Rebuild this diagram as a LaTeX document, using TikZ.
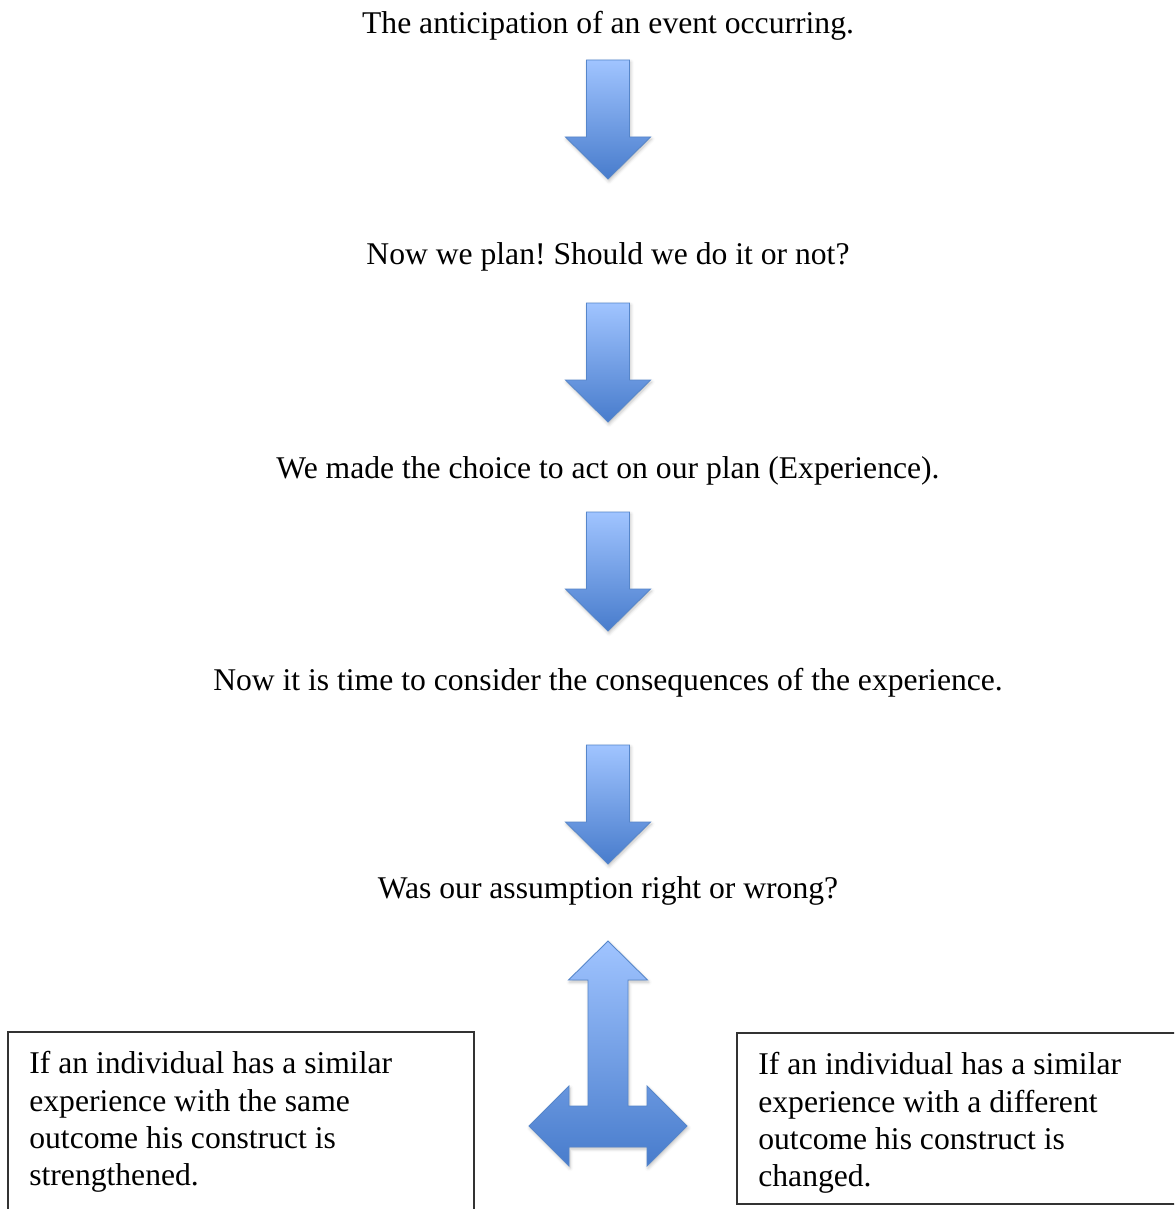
\documentclass[tikz,border=0pt]{standalone}
\usepackage{fontspec}
\setmainfont{Liberation Serif}
\usetikzlibrary{arrows.meta,shadows.blur,positioning}
\definecolor{arrowtop}{RGB}{160,196,255}
\definecolor{arrowbot}{RGB}{72,124,204}
\definecolor{arrowrim}{RGB}{86,134,202}
\frenchspacing

\begin{document}
\begin{tikzpicture}[x=0.02cm,y=-0.02cm,>=Stealth,
  stage/.style={anchor=base,inner sep=0pt,font=\fontsize{18}{21.3}\selectfont},
  outcome/.style={anchor=north west,align=left,inner xsep=0.42cm,inner ysep=0.38cm,font=\fontsize{18}{21.3}\selectfont},
  boxrim/.style={draw=black!80,line width=0.7pt},
  blockarrow/.style={draw=arrowrim,line width=0.5pt,top color=arrowtop,bottom color=arrowbot,
    blur shadow={shadow xshift=0.6pt,shadow yshift=-1.2pt,shadow opacity=25}},
  pics/downarrow/.style={code={
    \path[blockarrow] (-21.5,0) -- (21.5,0) -- (21.5,77) -- (42.5,77) -- (0,119)
      -- (-42.5,77) -- (-21.5,77) -- cycle;}}]
    \useasboundingbox (0,0) rectangle (1174,1209);
    \clip (0,0) rectangle (1174,1209);

    % the steps
    \node[stage] (anticip) at (608,34) {The anticipation of an event occurring.};
    \node[stage] (plan) at (608,265) {Now we plan! Should we do it or not?};
    \node[stage] (choice) at (608,478) {We made the choice to act on our plan (Experience).};
    \node[stage] (conseq) at (608,690) {Now it is time to consider the consequences of the experience.};
    \node[stage] (assume) at (608,898) {Was our assumption right or wrong?};

    % arrows between the steps
    \pic[shift={(0,26)}] at (anticip.base) {downarrow};
    \pic[shift={(0,38)}] at (plan.base) {downarrow};
    \pic[shift={(0,34)}] at (choice.base) {downarrow};
    \pic[shift={(0,55)}] at (conseq.base) {downarrow};

    % the two outcomes
    \path[blockarrow,shift={(assume.base)}] (0,43) -- (39.5,82) -- (20,82) -- (20,208)
      -- (39,208) -- (39,188) -- (79,228) -- (39,268) -- (39,249) -- (-39,249)
      -- (-39,268) -- (-79,228) -- (-39,188) -- (-39,208) -- (-20,208) -- (-20,82)
      -- (-39.5,82) -- cycle;

    \node[outcome] (same) at (8,1032) {If an individual has a similar\\experience with the same\\outcome his construct is\\strengthened.};
    \draw[boxrim] (same.north west) rectangle ++(466,220);
    \node[outcome] (diff) at (737,1033) {If an individual has a similar\\experience with a different\\outcome his construct is\\changed.};
    \draw[boxrim] (diff.north west) rectangle ++(450,171);
\end{tikzpicture}
\end{document}
